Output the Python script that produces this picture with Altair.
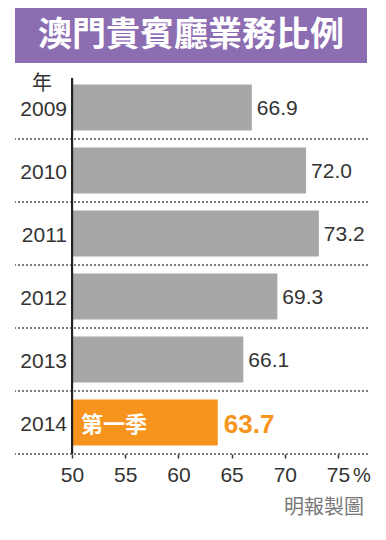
import altair as alt
import pandas as pd

years = ["2009", "2010", "2011", "2012", "2013", "2014"]
values = [66.9, 72.0, 73.2, 69.3, 66.1, 63.7]
kinds = ["year", "year", "year", "year", "year", "q1"]
notes = ["", "", "", "", "", "第一季"]
x_ticks = [50, 55, 60, 65, 70, 75]
title_text = "澳門貴賓廳業務比例"
unit_text = "年"
source_text = "明報製圖"

df = pd.DataFrame({"year": years, "value": values, "kind": kinds, "note": notes})

W, H = 353, 378
NUM_FONT = "Liberation Sans"
CJK_FONT = "Noto Sans CJK TC"

yscale = alt.Scale(domain=years, paddingInner=0.27, paddingOuter=0.135)
xscale = alt.Scale(domain=[44.64, 77.82], nice=False, zero=False)

base = alt.Chart(df)

bars = base.mark_bar().encode(
    y=alt.Y("year:N", scale=yscale, axis=None, sort=None),
    x=alt.X("value:Q", scale=xscale,
            axis=alt.Axis(values=x_ticks, title=None, domain=False, grid=False,
                          labelFontSize=21, labelFont=NUM_FONT, labelColor="#333333",
                          tickColor="#333333", tickSize=4, tickWidth=1.5,
                          labelPadding=6, labelOverlap=False)),
    x2=alt.datum(50),
    color=alt.Color("kind:N", scale=alt.Scale(domain=["year", "q1"],
                                              range=["#a7a7aa", "#f7941d"]), legend=None),
)

dots = base.mark_rule(strokeDash=[2, 2], color="#555555", strokeWidth=1.5, yOffset=8.5).encode(
    y=alt.Y("year:N", scale=yscale, axis=None, sort=None, bandPosition=1),
)

vaxis = base.mark_rule(color="#222222", strokeWidth=2).encode(
    x=alt.datum(50), y=alt.value(2), y2=alt.value(H)
)

year_labels = base.mark_text(align="right", baseline="middle", fontSize=21,
                             font=NUM_FONT, color="#333333", dy=2).encode(
    y=alt.Y("year:N", scale=yscale, axis=None, sort=None),
    x=alt.value(52),
    text="year:N",
)

val_labels = base.transform_filter(alt.datum.kind == "year").mark_text(
    align="left", baseline="middle", fontSize=21, font=NUM_FONT, color="#333333", dx=5, dy=1
).encode(
    y=alt.Y("year:N", scale=yscale, axis=None, sort=None),
    x=alt.X("value:Q", scale=xscale),
    text=alt.Text("value:Q", format=".1f"),
)

hi_label = base.transform_filter(alt.datum.kind == "q1").mark_text(
    align="left", baseline="middle", fontSize=26, fontWeight="bold", font=NUM_FONT,
    color="#f7941d", dx=6, dy=2
).encode(
    y=alt.Y("year:N", scale=yscale, axis=None, sort=None),
    x=alt.X("value:Q", scale=xscale),
    text=alt.Text("value:Q", format=".1f"),
)

note_label = base.transform_filter(alt.datum.kind == "q1").mark_text(
    align="left", baseline="middle", fontSize=22, fontWeight="bold", font=CJK_FONT,
    color="white", dx=9, dy=2
).encode(
    y=alt.Y("year:N", scale=yscale, axis=None, sort=None),
    x=alt.datum(50),
    text="note:N",
)

title_box = alt.Chart(pd.DataFrame({"t": [title_text]})).mark_rect(color="#8c6db2").encode(
    x=alt.value(0), x2=alt.value(352), y=alt.value(-68), y2=alt.value(-13)
)
title_lbl = alt.Chart(pd.DataFrame({"t": [title_text]})).mark_text(
    fontSize=34, fontWeight="bold", font=CJK_FONT, color="white", baseline="middle", align="center"
).encode(x=alt.value(176), y=alt.value(-40), text="t:N")

unit_lbl = alt.Chart(pd.DataFrame({"t": [unit_text]})).mark_text(
    fontSize=20, font=CJK_FONT, color="#333333", baseline="middle", align="center"
).encode(x=alt.value(27), y=alt.value(8), text="t:N")

pct_lbl = alt.Chart(pd.DataFrame({"t": ["%"]})).mark_text(
    fontSize=20, font=NUM_FONT, color="#333333", baseline="middle", align="left"
).encode(x=alt.value(338), y=alt.value(400), text="t:N")

src_lbl = alt.Chart(pd.DataFrame({"t": [source_text]})).mark_text(
    fontSize=20, font=CJK_FONT, color="#777777", baseline="middle", align="right"
).encode(x=alt.value(349), y=alt.value(432), text="t:N")

chart = alt.layer(
    title_box, title_lbl, dots, bars, vaxis, year_labels, val_labels, hi_label,
    note_label, unit_lbl, pct_lbl, src_lbl
).properties(
    width=W, height=H,
    autosize=alt.AutoSizeParams(type="none"),
    padding={"left": 7, "top": 68, "right": 10, "bottom": 78},
    background="white",
).configure_view(strokeWidth=0)

chart.save("out.html", embed_options={"renderer": "svg", "actions": False})
